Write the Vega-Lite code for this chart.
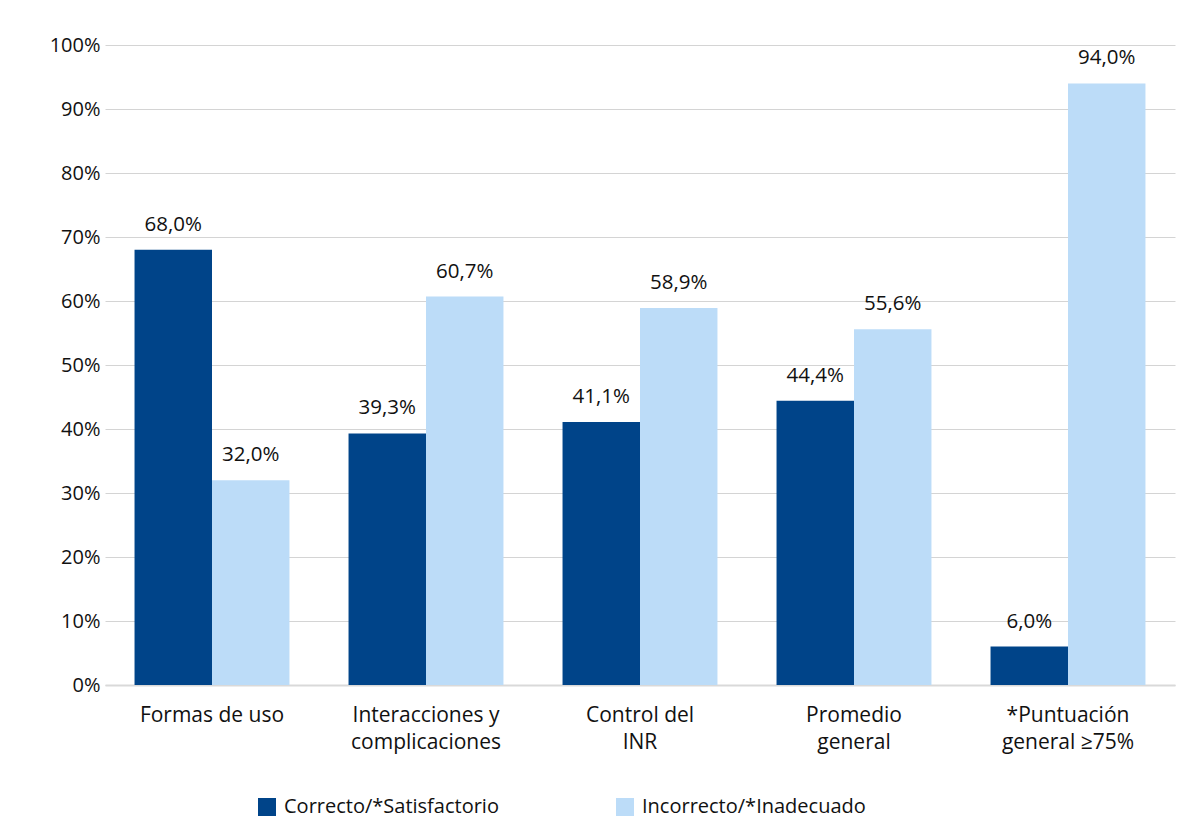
{
  "$schema": "https://vega.github.io/schema/vega-lite/v6.json",
  "width": 1070,
  "height": 640,
  "autosize": {"type": "none"},
  "padding": {"left": 105, "top": 45, "right": 28, "bottom": 147},
  "background": "white",
  "config": {
    "locale": {"number": {"decimal": ",", "thousands": ".", "grouping": [3], "currency": ["", " €"]}},
    "view": {"stroke": null},
    "font": "Open Sans"
  },
  "data": {
    "values": [
      {"categoria": "Formas de uso", "serie": "Correcto/*Satisfactorio", "valor": 0.68},
      {"categoria": "Formas de uso", "serie": "Incorrecto/*Inadecuado", "valor": 0.32},
      {"categoria": "Interacciones y|complicaciones", "serie": "Correcto/*Satisfactorio", "valor": 0.393},
      {"categoria": "Interacciones y|complicaciones", "serie": "Incorrecto/*Inadecuado", "valor": 0.607},
      {"categoria": "Control del|INR", "serie": "Correcto/*Satisfactorio", "valor": 0.411},
      {"categoria": "Control del|INR", "serie": "Incorrecto/*Inadecuado", "valor": 0.589},
      {"categoria": "Promedio|general", "serie": "Correcto/*Satisfactorio", "valor": 0.444},
      {"categoria": "Promedio|general", "serie": "Incorrecto/*Inadecuado", "valor": 0.556},
      {"categoria": "*Puntuación|general ≥75%", "serie": "Correcto/*Satisfactorio", "valor": 0.06},
      {"categoria": "*Puntuación|general ≥75%", "serie": "Incorrecto/*Inadecuado", "valor": 0.94}
    ]
  },
  "encoding": {
    "x": {
      "field": "categoria", "type": "nominal", "sort": null,
      "scale": {"paddingInner": 0.276, "paddingOuter": 0.138},
      "axis": {
        "title": null, "labelAngle": 0, "labelExpr": "split(datum.label, '|')",
        "labelFontSize": 21, "labelColor": "#111111", "labelPadding": 19, "labelLineHeight": 27,
        "ticks": false, "domainColor": "#d9d9d9", "domainWidth": 2, "labelBaseline": "top", "labelLimit": 300
      }
    },
    "xOffset": {"field": "serie", "type": "nominal", "sort": ["Correcto/*Satisfactorio", "Incorrecto/*Inadecuado"]},
    "y": {
      "field": "valor", "type": "quantitative",
      "scale": {"domain": [0, 1], "nice": false},
      "axis": {
        "title": null, "format": ".0%", "values": [0, 0.1, 0.2, 0.3, 0.4, 0.5, 0.6, 0.7, 0.8, 0.9, 1],
        "gridColor": "#d4d4d4", "ticks": false, "domain": false,
        "labelFontSize": 20, "labelPadding": 5, "labelColor": "#111111"
      }
    }
  },
  "layer": [
    {
      "mark": {"type": "bar"},
      "encoding": {
        "color": {
          "field": "serie", "type": "nominal",
          "scale": {"domain": ["Correcto/*Satisfactorio", "Incorrecto/*Inadecuado"], "range": ["#004489", "#bcdcf8"]},
          "legend": {
            "title": null, "orient": "none", "direction": "horizontal",
            "legendX": 152, "legendY": 752,
            "symbolType": "square", "symbolSize": 324, "symbolStrokeWidth": 0,
            "labelFontSize": 20, "labelColor": "#111111", "columnPadding": 116, "labelOffset": 7, "labelLimit": 400
          }
        }
      }
    },
    {
      "mark": {"type": "text", "baseline": "alphabetic", "dy": -19, "fontSize": 20.5, "color": "#111111"},
      "encoding": {"text": {"field": "valor", "type": "quantitative", "format": ".1%"}}
    }
  ]
}
